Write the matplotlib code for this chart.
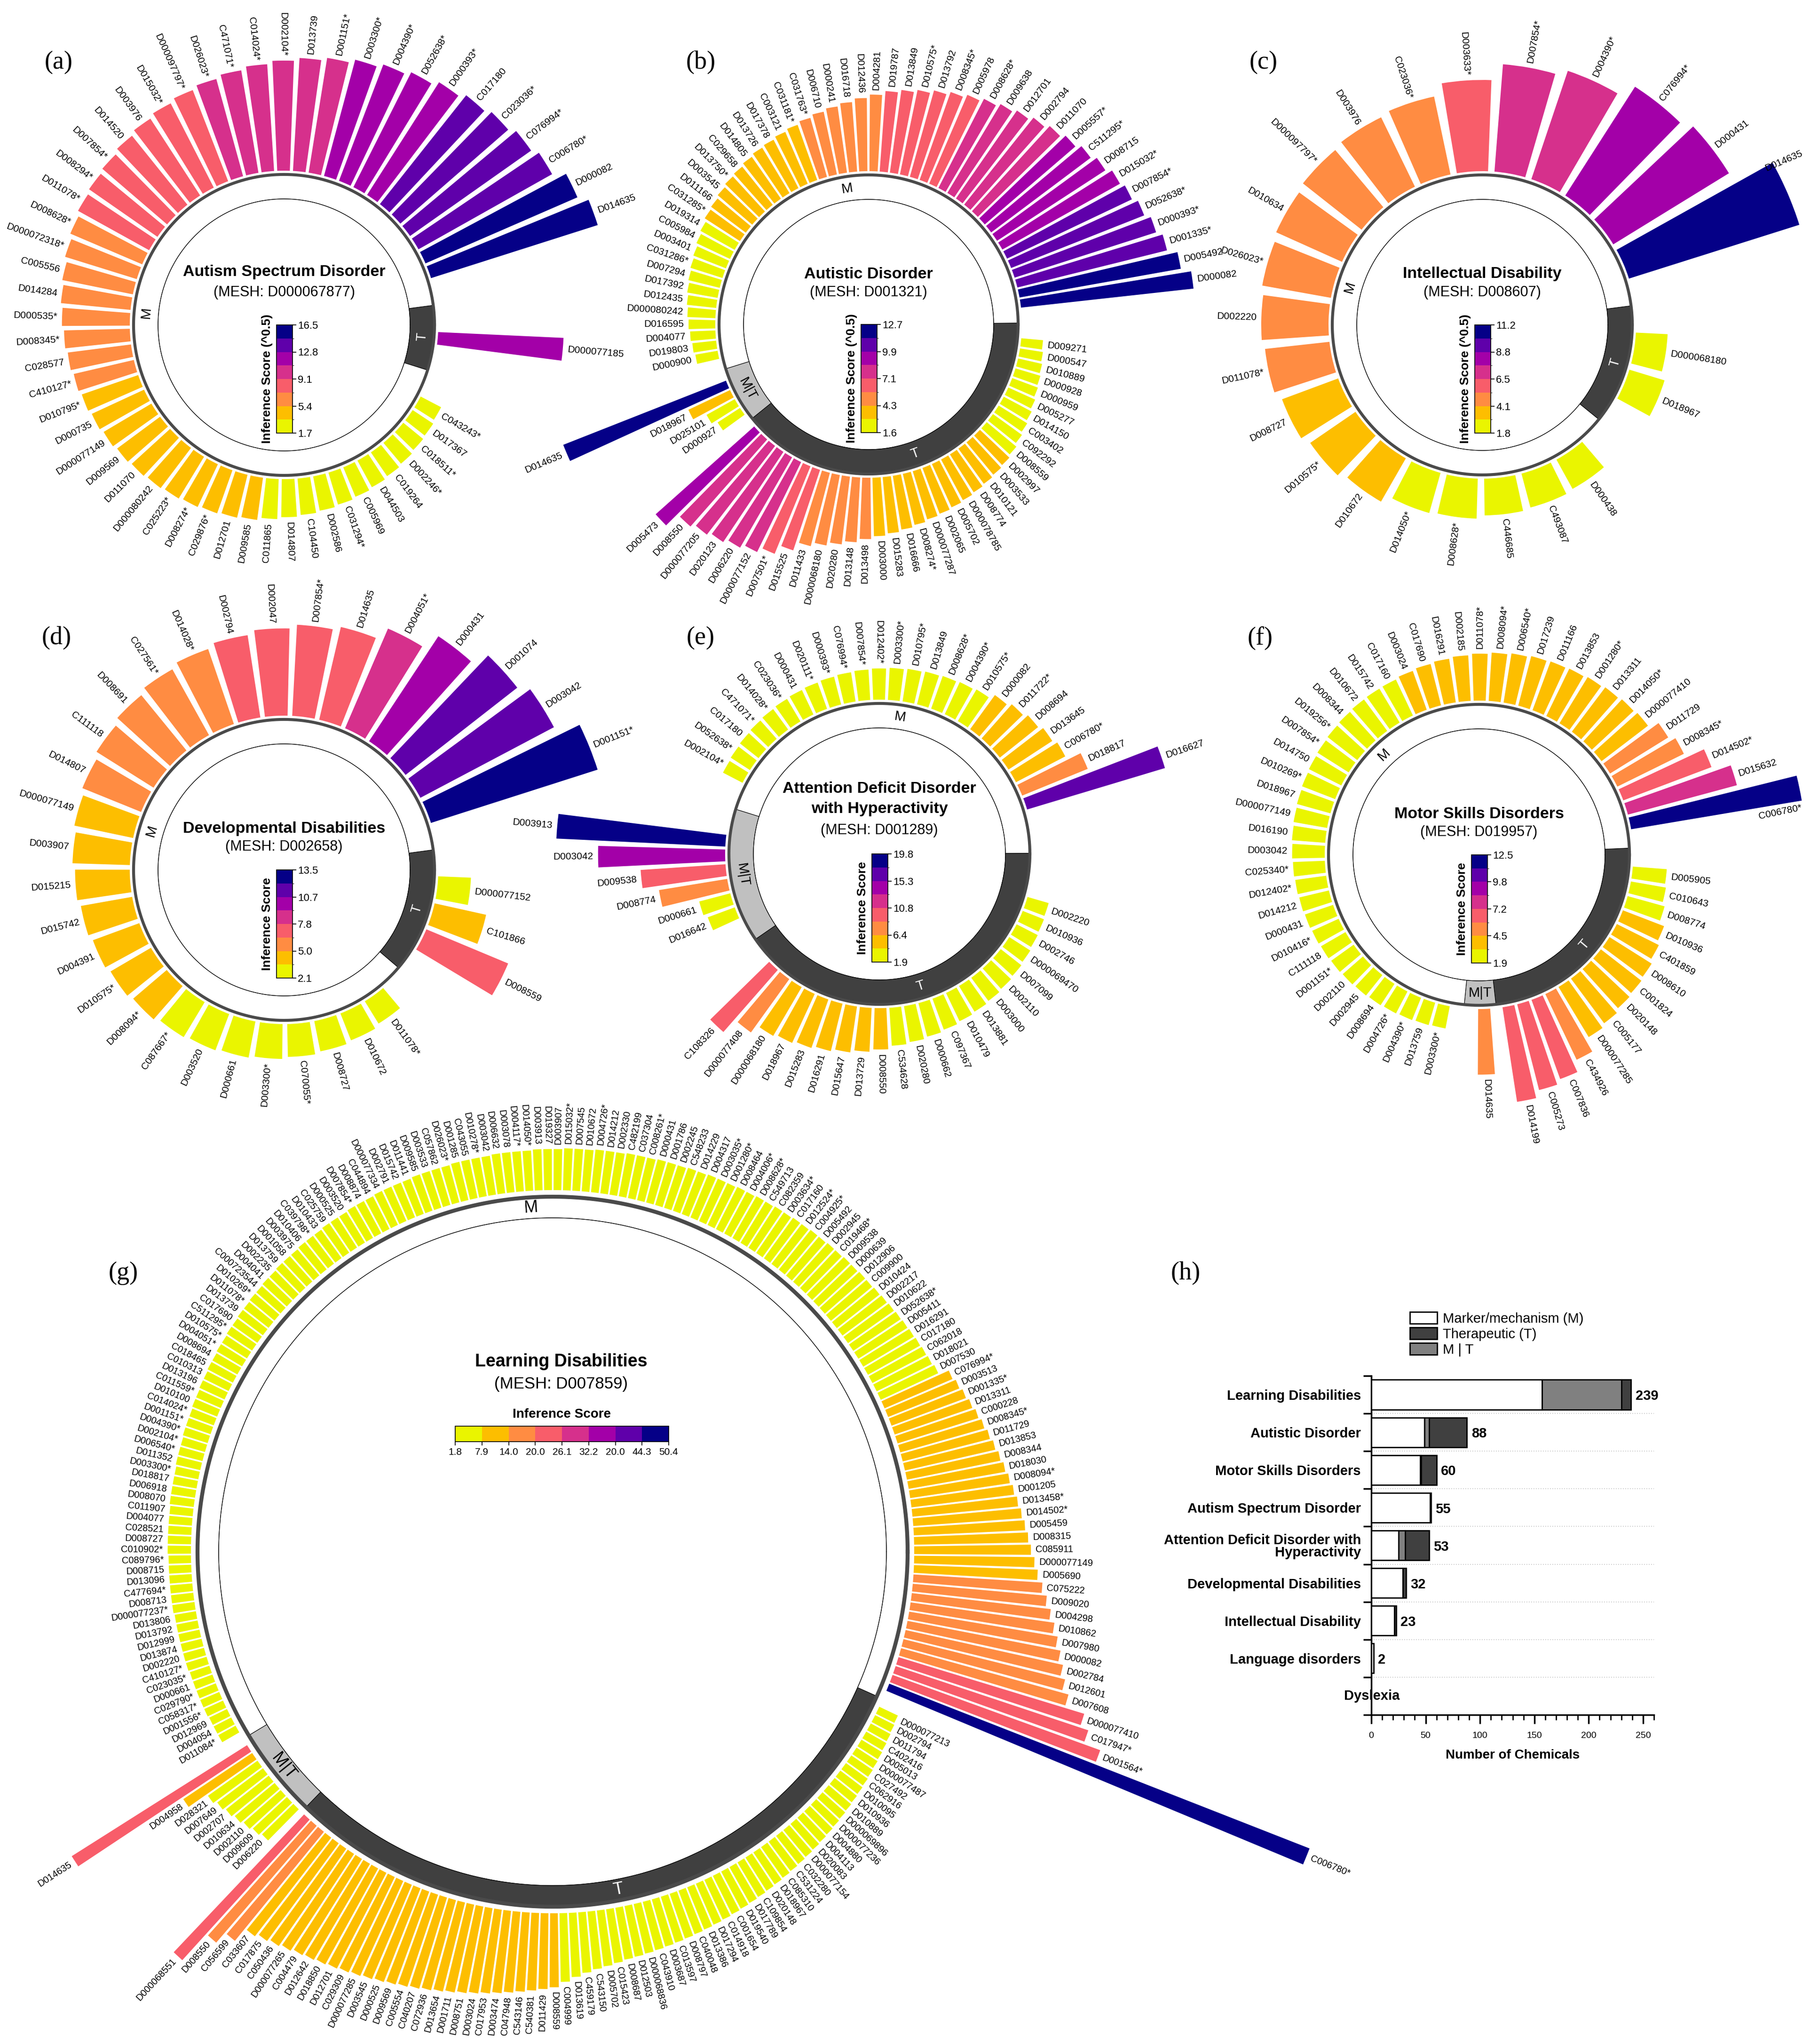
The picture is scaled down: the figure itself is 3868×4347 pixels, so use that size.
import numpy as np
import matplotlib
matplotlib.use('Agg')
import matplotlib.pyplot as plt
from matplotlib.colors import ListedColormap, BoundaryNorm
from matplotlib.cm import ScalarMappable
from matplotlib.patches import Patch

plt.rcParams['font.family'] = ['Liberation Sans', 'DejaVu Sans']

W, H = 3868, 4347
fig = plt.figure(figsize=(W / 100, H / 100), dpi=100)

palette = ['#EAF500', '#FDBE00', '#FF8C42', '#F85D6A', '#D6308C', '#A300A8', '#5F00AA', '#050087']

# ---------------- (a) Autism Spectrum Disorder ----------------
a_M_labels = ['C043243*', 'D017367', 'C018511*', 'D002246*', 'C019264', 'D044503', 'C005969', 'C031294*',
              'D002586', 'C104450', 'D014807', 'C011865', 'D009585', 'D012701', 'C029876*', 'D008274*',
              'C025223*', 'D000080242', 'D011070', 'D009569', 'D000077149', 'D000735', 'D010795*', 'C410127*',
              'C028577', 'D008345*', 'D000535*', 'D014284', 'C005556', 'D000072318*', 'D008628*', 'D011078*',
              'D008294*', 'D007854*', 'D014520', 'D003976', 'D015032*', 'D000097797*', 'D026023*', 'C471071*',
              'C014024*', 'D002104*', 'D013739', 'D001151*', 'D003300*', 'D004390*', 'D052638*', 'D000393*',
              'C017180', 'C023036*', 'C076994*', 'C006780*', 'D000082', 'D014635']
a_M_vals = [1.75, 1.9, 2.0, 2.15, 2.3, 2.45, 2.6, 2.75, 2.9, 3.05, 3.2, 3.4,
            3.65, 3.8, 3.95, 4.1, 4.25, 4.4, 4.55, 4.7, 4.9, 5.1, 5.3,
            5.5, 5.7, 5.9, 6.1, 6.3, 6.5, 6.8, 7.1,
            7.4, 7.6, 7.8, 8.1, 8.4, 8.7, 9.0,
            9.3, 9.6, 9.9, 10.2, 10.5, 10.8,
            11.2, 11.6, 12.0, 12.5,
            13.0, 13.4, 13.9, 14.4,
            15.6, 16.5]
a_T_labels = ['D000077185']
a_T_vals = [11.7]

# ---------------- (b) Autistic Disorder ----------------
b_M_labels = ['D000900', 'D019803', 'D004077', 'D016595', 'D000080242', 'D012435', 'D017392', 'D007294',
              'C031286*', 'D003401', 'C005984', 'D019314', 'C031285*', 'D011166', 'D003545', 'D013750*',
              'C029658', 'D014805', 'D013726', 'D017378', 'C003121', 'C031181*', 'C031763*', 'D006710',
              'D000241', 'D016718', 'D012436', 'D004281', 'D019787', 'D013849', 'D010575*', 'D013792',
              'D008345*', 'D005978', 'D008628*', 'D009638', 'D012701', 'D002794', 'D011070', 'D005557*',
              'C511295*', 'D008715', 'D015032*', 'D007854*', 'D052638*', 'D000393*', 'D001335*', 'D005492',
              'D000082']
b_M_vals = [1.7, 1.8, 1.9, 2.0, 2.1, 2.2, 2.3, 2.4, 2.5, 2.6, 2.75, 2.9,
            3.1, 3.2, 3.35, 3.5, 3.6, 3.75, 3.9, 4.0, 4.15, 4.3,
            4.5, 4.7, 4.9, 5.1, 5.35, 5.6,
            5.9, 6.1, 6.3, 6.55, 6.8, 7.05,
            7.3, 7.55, 7.8, 8.1, 8.4,
            8.7, 9.05, 9.4, 9.8,
            10.05, 10.4, 10.8, 11.2,
            11.9, 12.6]
b_MT_labels = ['D000927', 'D025101', 'D018967', 'D014635']
b_MT_vals = [2.0, 2.4, 3.4, 12.7]
b_T_labels = ['D009271', 'D000547', 'D010889', 'D000928', 'D000959', 'D005277', 'D014150', 'C003402',
              'C092292', 'D008559', 'D002997', 'D003533', 'D010121', 'D008774', 'D000078785', 'D005702',
              'D002065', 'D000077287', 'D008274*', 'D016666', 'D015283', 'D003000', 'D013498', 'D013148',
              'D020280', 'D000068180', 'D011433', 'D015525', 'D007501*', 'D000077152', 'D006220', 'D020123',
              'D000077205', 'D008550', 'D005473']
b_T_vals = [1.65, 1.75, 1.85, 1.95, 2.05, 2.2, 2.35, 2.5, 2.65, 2.85,
            3.0, 3.1, 3.2, 3.3, 3.4, 3.5, 3.6, 3.7, 3.85, 4.0, 4.15, 4.3,
            4.5, 4.75, 5.0, 5.25, 5.55,
            6.2, 6.9,
            7.3, 7.6, 7.9, 8.15, 8.45,
            9.6]

# ---------------- (c) Intellectual Disability ----------------
c_M_labels = ['D000438', 'C493087', 'C446685', 'D008628*', 'D014050*', 'D010672', 'D010575*', 'D008727',
              'D011078*', 'D002220', 'D026023*', 'D010634', 'D000097797*', 'D003976', 'C023036*', 'D003633*',
              'D007854*', 'D004390*', 'C076994*', 'D000431', 'D014635']
c_M_vals = [2.4, 2.5, 2.6, 2.8, 2.9, 3.4, 3.7, 4.0,
            4.3, 4.45, 4.6, 4.75, 4.9, 5.05, 5.2, 5.9, 6.9, 7.3, 8.2, 8.6, 11.2]
c_T_labels = ['D000068180', 'D018967']
c_T_vals = [2.3, 2.6]

# ---------------- (d) Developmental Disabilities ----------------
d_M_labels = ['D011078*', 'D010672', 'D008727', 'C070055*', 'D003300*', 'D000661', 'D003520', 'C087667*',
              'D008094*', 'D010575*', 'D004391', 'D015742', 'D015215', 'D003907', 'D000077149', 'D014807',
              'C111118', 'D008691', 'C027561*', 'D014028*', 'D002794', 'D002047', 'D007854*', 'D014635',
              'D004051*', 'D000431', 'D001074', 'D003042', 'D001151*']
d_M_vals = [2.3, 2.5, 2.65, 2.8, 2.95, 3.1, 3.25, 3.4,
            3.65, 3.85, 4.05, 4.25, 4.45, 4.65, 4.85,
            5.1, 5.4, 5.7, 6.0, 6.3,
            6.6, 6.9, 7.2, 7.5,
            8.5, 9.8, 11.0, 11.7, 13.5]
d_T_labels = ['D000077152', 'C101866', 'D008559']
d_T_vals = [2.8, 4.3, 7.0]

# ---------------- (e) ADHD ----------------
e_M_labels = ['D002104*', 'D052638*', 'C017180', 'C471071*', 'D014028*', 'C023036*', 'D000431', 'D020111*',
              'D000393*', 'C076994*', 'D007854*', 'D012402*', 'D003300*', 'D010795*', 'D013849', 'D008628*',
              'D004390*', 'D010575*', 'D000082', 'D011722*', 'D008694', 'D013645', 'C006780*', 'D018817',
              'D016627']
e_M_vals = [2.0, 2.1, 2.2, 2.3, 2.4, 2.5, 2.6, 2.7, 2.8, 2.9, 3.0, 3.1, 3.2, 3.3, 3.4, 3.5, 3.6, 3.75,
            4.4, 4.8, 5.2, 5.6, 6.0, 7.8, 16.5]
e_MT_labels = ['D016642', 'D000661', 'D008774', 'D009538', 'D003042', 'D003913']
e_MT_vals = [2.8, 3.2, 7.6, 9.5, 14.5, 19.5]
e_T_labels = ['D002220', 'D010936', 'D002746', 'D000069470', 'D007099', 'D002110', 'D003000', 'D013881',
              'D010479', 'C097367', 'D000662', 'D020280', 'C534628', 'D008550', 'D013729', 'D015647',
              'D016291', 'D015283', 'D018967', 'D000068180', 'D000077408', 'C108326']
e_T_vals = [2.0, 2.1, 2.2, 2.35, 2.5, 2.65, 2.8, 2.95, 3.1, 3.3, 3.5, 3.7, 3.9,
            4.3, 4.6, 4.9, 5.2, 5.5, 5.8, 6.1, 7.2, 9.2]

# ---------------- (f) Motor Skills Disorders ----------------
f_M_labels = ['D003300*', 'D013759', 'D004390*', 'D004726*', 'D008694', 'D002945', 'D002110', 'D001151*',
              'C111118', 'D010416*', 'D000431', 'D014212', 'D012402*', 'C025340*', 'D003042', 'D016190',
              'D000077149', 'D018967', 'D010269*', 'D014750', 'D007854*', 'D019256*', 'D008344', 'D010672',
              'D015742', 'C017160', 'D003024', 'C017690', 'D016291', 'D002185', 'D011078*', 'D008094*',
              'D006540*', 'D017239', 'D011166', 'D013853', 'D001280*', 'D013311', 'D014050*', 'D000077410',
              'D011729', 'D008345*', 'D014502*', 'D015632', 'C006780*']
f_M_vals = [2.0, 2.05, 2.1, 2.15, 2.2, 2.25, 2.3, 2.35, 2.4, 2.45, 2.5, 2.55, 2.6, 2.65, 2.7, 2.75,
            2.8, 2.85, 2.9, 2.95, 3.0, 3.05, 3.1, 3.15, 3.18, 3.2,
            3.3, 3.4, 3.5, 3.6, 3.7, 3.8, 3.9, 4.0, 4.05, 4.1, 4.2, 4.3, 4.4, 4.5,
            5.2, 5.6, 7.0, 8.3, 12.5]
f_MT_labels = ['D014635']
f_MT_vals = [5.0]
f_T_labels = ['D005905', 'C010643', 'D008774', 'D010936', 'C401859', 'D008610', 'C001824', 'D020148',
              'C005177', 'D000077285', 'C434926', 'C007836', 'C005273', 'D014199']
f_T_vals = [2.8, 2.9, 3.1, 3.5, 3.7, 3.9, 4.0, 4.1, 4.3, 4.5, 5.5, 6.3, 6.6, 7.1]

# ---------------- (g) Learning Disabilities ----------------
g_M_labels = ['D011084*', 'D004054', 'D012969', 'D001556*', 'C058317*', 'C029790*', 'D000661', 'C023035*',
              'C410127*', 'D002220', 'D013874', 'D012999', 'D013792', 'D013806', 'D000077237*', 'D008713',
              'C477694*', 'D013096', 'D008715', 'C089796*', 'C010902*', 'D008727', 'C028521', 'D004077',
              'C011907', 'D008070', 'D006918', 'D018817', 'D003300*', 'D011352', 'D006540*', 'D002104*',
              'D004390*', 'D001151*', 'C014024*', 'D010100', 'C011559*', 'D013196', 'C010313', 'C018465',
              'D008694', 'D004051*', 'D010575*', 'C511295*', 'C017690', 'D013739', 'D011078*', 'D010269*',
              'C000723544', 'D004041', 'D002235', 'D013759', 'D001058', 'D003975', 'D010406', 'C039798*',
              'D010433', 'C025759', 'D000525', 'D003520', 'D007854*', 'D008874', 'C044894', 'D000077334',
              'D002791', 'D015742', 'D011441', 'D009585', 'D003533', 'C057862', 'D026023*', 'D001285',
              'C043055', 'D010278*', 'D003042', 'D006632', 'D003078', 'D004117*', 'D014050*', 'D003913',
              'D019327', 'D003907', 'D015032*', 'D007545', 'D010672', 'D004726*', 'D014212', 'D002330',
              'C482199', 'C037304', 'C008261*', 'D000431', 'D001786', 'D002245', 'C548233', 'D014229',
              'D004317', 'D003035*', 'D001280*', 'D008464', 'D004006*', 'D008628*', 'C549713', 'C082359',
              'D003634*', 'C017160', 'D012524*', 'C004925*', 'D005492', 'D002945', 'C019468*', 'D009538',
              'D000639', 'D012906', 'C009900', 'D010424', 'D002217', 'D010622', 'D052638*', 'D005411',
              'D016291', 'C017180', 'C062018', 'D018021', 'D007530', 'C076994*', 'D003513', 'D001335*',
              'D013311', 'C000228', 'D008345*', 'D011729', 'D013853', 'D008344', 'D018030', 'D008094*',
              'D001205', 'D013458*', 'D014502*', 'D005459', 'D008315', 'C085911', 'D000077149', 'D005690',
              'C075222', 'D009020', 'D004298', 'D010862', 'D007980', 'D000082', 'D002784', 'D012601',
              'D007608', 'D000077410', 'C017947*', 'D001564*', 'C006780*']
g_M_vals = [1.9, 1.9, 1.9, 2.0, 2.0, 2.0, 2.0, 2.0, 2.1, 2.1, 2.1, 2.1, 2.1, 2.1, 2.2, 2.2, 2.2, 2.2, 2.2, 2.2,
            2.3, 2.3, 2.3, 2.3, 2.3, 2.4, 2.4, 2.4, 2.4, 2.5, 2.5, 2.5, 2.6, 2.6, 2.6, 2.7, 2.7, 2.8, 2.8, 2.9,
            2.9, 3.0, 3.0, 3.1, 3.1, 3.2, 3.2, 3.3, 3.3, 3.4, 3.4, 3.5, 3.5, 3.5, 3.6, 3.6, 3.6, 3.7, 3.7, 3.7,
            3.8, 3.8, 3.8, 3.9, 3.9, 3.9, 3.9, 4.0, 4.0, 4.0, 4.0, 4.1, 4.1, 4.1, 4.1, 4.2, 4.2, 4.2, 4.2, 4.3,
            4.3, 4.3, 4.4, 4.4, 4.4, 4.5, 4.5, 4.5, 4.6, 4.6, 4.6, 4.7, 4.7, 4.7, 4.8, 4.8, 4.9, 4.9, 4.9, 5.0,
            5.0, 5.1, 5.1, 5.2, 5.2, 5.3, 5.3, 5.4, 5.4, 5.5, 5.5, 5.6, 5.6, 5.7, 5.7, 5.8, 5.9, 6.0, 6.1, 6.2,
            6.3, 6.4, 6.5, 6.6, 6.8,
            8.0, 8.3, 8.6, 8.9, 9.2, 9.5, 9.8, 10.1, 10.4, 10.7, 11.0, 11.3, 11.6, 11.9, 12.2, 12.5, 12.8, 13.2, 13.6,
            14.2, 14.8, 15.4, 16.0, 16.6, 17.2, 17.8, 18.4, 19.2,
            21.5, 22.5, 24.5,
            50.4]
g_MT_labels = ['D006220', 'D009609', 'D002110', 'D010634', 'D002707', 'D007649', 'D028321', 'D004958', 'D014635']
g_MT_vals = [4.6, 4.9, 5.2, 5.5, 5.8, 6.1, 6.5, 9.0, 23.0]
g_T_labels = ['D000077213', 'D002794', 'D011794', 'C402416', 'D005013', 'D000077487', 'C027492', 'C062916',
              'D010095', 'D010936', 'D010889', 'D000069896', 'D000077236', 'D004880', 'D004113', 'D020083',
              'D000077154', 'C032280', 'C531224', 'C085310', 'D018967', 'D020148', 'C109854', 'D017789',
              'D019540', 'C001654', 'C014918', 'D017294', 'D013386', 'C040048', 'D008797', 'C013597',
              'D003687', 'C043910', 'D000068836', 'D012503', 'D008687', 'C015423', 'D005702', 'C543150',
              'C459179', 'D013619', 'C004999', 'D008559', 'D011429', 'C540381', 'C543146', 'C047948',
              'D003474', 'C017953', 'D003024', 'D008751', 'D001711', 'D013654', 'C072936', 'C040207',
              'C005554', 'D009569', 'D000525', 'D003545', 'D000077285', 'C029309', 'D012701', 'D018850',
              'D012642', 'C004479', 'D000077265', 'C050436', 'C017875', 'C033607', 'C056599', 'D008550',
              'D000068551']
g_T_vals = [2.0, 2.1, 2.2, 2.3, 2.4, 2.5, 2.6, 2.7, 2.8, 2.9, 3.0, 3.1, 3.2, 3.3, 3.4, 3.5, 3.6, 3.7, 3.8, 3.9,
            4.0, 4.1, 4.2, 4.3, 4.4, 4.5, 4.6, 4.7, 4.8, 4.9, 5.0, 5.1, 5.2, 5.3, 5.4, 5.5, 5.6, 5.8, 6.0, 6.2,
            6.5, 6.9, 7.4,
            8.0, 8.2, 8.4, 8.6, 8.8, 9.0, 9.2, 9.4, 9.6, 9.8, 10.0, 10.2, 10.4, 10.6, 10.8, 11.0, 11.2, 11.4,
            11.6, 11.8, 12.0, 12.2, 12.4, 12.7, 13.0, 13.3, 13.7,
            15.5, 17.0, 21.0]

# ---------------- (h) counts ----------------
h_cats = ['Learning Disabilities', 'Autistic Disorder', 'Motor Skills Disorders', 'Autism Spectrum Disorder',
          'Attention Deficit Disorder with\nHyperactivity', 'Developmental Disabilities',
          'Intellectual Disability', 'Language disorders', 'Dyslexia']
h_M = [157, 49, 45, 54, 25, 29, 21, 2, 0]
h_MT = [73, 4, 1, 0, 6, 0, 0, 0, 0]
h_T = [9, 35, 14, 1, 22, 3, 2, 0, 0]


def fx(x):
    return x / W


def fy(y):
    return 1 - y / H


seg_color = {'T': '#404040', 'MT': '#C0C0C0', 'M': 'white'}
seg_text = {'T': 'T', 'MT': 'M|T', 'M': 'M'}


def radial(cx, cy, R, band, groups, start, gaps, vmin, vmax, Lmin, Lmax, frac=0.8,
           S=800, fs=15, ring_fs=21, ring_lw=4.5, pad=8, adjust=None):
    adjust = adjust or {}
    ax = fig.add_axes([fx(cx - S), fy(cy + S), 2 * S / W, 2 * S / H], projection='polar')
    ax.set_ylim(0, S)
    ax.set_axis_off()
    for kind, labs, vals in groups:
        assert len(labs) == len(vals), (kind, len(labs), len(vals))
    n = sum(len(g[1]) for g in groups)
    slot = (360 - sum(gaps)) / n
    edges = np.linspace(vmin, vmax, 9)
    centers = []
    a = start
    for (kind, labs, vals), gap in zip(groups, gaps):
        th = a - slot * np.arange(len(labs))
        centers.append(th)
        a = th[-1] - slot - gap
    for (kind, labs, vals), th in zip(groups, centers):
        v = np.asarray(vals, float)
        idx = np.clip(np.digitize(v, edges) - 1, 0, 7)
        cols = [palette[i] for i in idx]
        L = Lmin + (v - vmin) / (vmax - vmin) * (Lmax - Lmin)
        ax.bar(np.deg2rad(th), L, width=np.deg2rad(slot * frac), bottom=R + pad,
               color=cols, edgecolor='none', clip_on=False, zorder=2)
        for t, l, lab in zip(th, L, labs):
            dth, dr = adjust.get(lab, (0, 0))
            tt = t % 360
            if 90 < tt <= 270:
                rot, ha = tt - 180, 'right'
            else:
                rot, ha = (tt if tt <= 90 else tt - 360), 'left'
            ax.text(np.deg2rad(t + dth), R + pad + l + 10 + dr, lab, rotation=rot, rotation_mode='anchor',
                    ha=ha, va='center', fontsize=fs, zorder=4)
    k = len(groups)
    bounds = []
    for i in range(k):
        nxt = centers[(i + 1) % k][0] - (360 if i == k - 1 else 0)
        bounds.append((centers[i][-1] + nxt) / 2)
    for i, (kind, labs, vals) in enumerate(groups):
        hi = bounds[i - 1] + (360 if i == 0 else 0)
        lo = bounds[i]
        c = (hi + lo) / 2
        ax.bar(np.deg2rad(c), band, width=np.deg2rad(hi - lo), bottom=R - band,
               color=seg_color[kind], edgecolor='black', linewidth=0.8, clip_on=False, zorder=1)
        cc = c % 360
        rot = cc - 90 if cc <= 180 else cc + 90 - 360
        ax.text(np.deg2rad(c), R - band / 2, seg_text[kind], rotation=rot, rotation_mode='anchor',
                ha='center', va='center', fontsize=ring_fs,
                color='white' if kind == 'T' else 'black', zorder=3)
    circ = np.linspace(0, 2 * np.pi, 721)
    ax.plot(circ, np.full_like(circ, R), color='#4a4a4a', lw=ring_lw, zorder=3)
    ax.plot(circ, np.full_like(circ, R - band), color='black', lw=0.8, zorder=3)
    return ax


def vbar(cx, cy, vmin, vmax, ticklabels, label):
    cax = fig.add_axes([fx(cx - 16), fy(cy + 230), 34 / W, 230 / H])
    edges = np.linspace(vmin, vmax, 9)
    sm = ScalarMappable(norm=BoundaryNorm(edges, 8), cmap=ListedColormap(palette))
    cb = fig.colorbar(sm, cax=cax, orientation='vertical')
    cb.set_ticks(edges[::2])
    cb.set_ticklabels(ticklabels)
    cb.outline.set_linewidth(1.2)
    cax.tick_params(labelsize=16, length=6, width=1.2, pad=2)
    cax.yaxis.set_label_position('left')
    cax.set_ylabel(label, fontsize=19, fontweight='bold', labelpad=6)


def titles(cx, cy, lines):
    for txt, dy, bold in lines:
        fig.text(fx(cx), fy(cy + dy), txt, ha='center', va='center',
                 fontsize=24.5 if bold else 22, fontweight='bold' if bold else 'normal')


# (a)
radial(604, 691, 320, 52, [('T', a_T_labels, a_T_vals), ('M', a_M_labels, a_M_vals)],
       -5, [19.15, 19.15], 1.7, 16.5, 48, 372)
titles(604, 691, [('Autism Spectrum Disorder', -112, True), ('(MESH: D000067877)', -69, False)])
vbar(604, 691, 1.7, 16.5, ['1.7', '5.4', '9.1', '12.8', '16.5'], 'Inference Score (^0.5)')

# (b)
radial(1847, 690, 318, 52, [('T', b_T_labels, b_T_vals), ('MT', b_MT_labels, b_MT_vals),
                            ('M', b_M_labels, b_M_vals)],
       -6.7, [4.9, 7.8, 10.7], 1.6, 12.7, 45, 372)
titles(1847, 690, [('Autistic Disorder', -107, True), ('(MESH: D001321)', -68, False)])
vbar(1847, 690, 1.6, 12.7, ['1.6', '4.3', '7.1', '9.9', '12.7'], 'Inference Score (^0.5)')

# (c)
radial(3152, 691, 319, 52, [('T', c_T_labels, c_T_vals), ('M', c_M_labels, c_M_vals)],
       -8.7, [18.5, 18.0], 1.8, 11.2, 50, 380, frac=0.83,
       adjust={'D014635': (5.5, -30)})
titles(3152, 691, [('Intellectual Disability', -108, True), ('(MESH: D008607)', -69, False)])
vbar(3152, 691, 1.8, 11.2, ['1.8', '4.1', '6.5', '8.8', '11.2'], 'Inference Score (^0.5)')

# (d)
radial(604, 1850, 320, 52, [('T', d_T_labels, d_T_vals), ('M', d_M_labels, d_M_vals)],
       -6.6, [17.2, 18.4], 2.1, 13.5, 50, 372, frac=0.83)
titles(604, 1850, [('Developmental Disabilities', -88, True), ('(MESH: D002658)', -49, False)])
vbar(604, 1850, 2.1, 13.5, ['2.1', '5.0', '7.8', '10.7', '13.5'], 'Inference Score')

# (e)
radial(1870, 1816, 320, 52, [('T', e_T_labels, e_T_vals), ('MT', e_MT_labels, e_MT_vals),
                             ('M', e_M_labels, e_M_vals)],
       -18.4, [18.65, 19.25, 31.85], 1.9, 19.8, 45, 365)
titles(1870, 1816, [('Attention Deficit Disorder', -138, True), ('with Hyperactivity', -96, True),
                    ('(MESH: D001289)', -50, False)])
vbar(1870, 1816, 1.9, 19.8, ['1.9', '6.4', '10.8', '15.3', '19.8'], 'Inference Score')

# (f)
radial(3145, 1818, 320, 52, [('T', f_T_labels, f_T_vals), ('MT', f_MT_labels, f_MT_vals),
                             ('M', f_M_labels, f_M_vals)],
       -6.6, [3.5, 9.5, 12.8], 1.9, 12.5, 45, 368,
       adjust={'C006780*': (-4.0, -106)})
titles(3145, 1818, [('Motor Skills Disorders', -87, True), ('(MESH: D019957)', -48, False)])
vbar(3145, 1818, 1.9, 12.5, ['1.9', '4.5', '7.2', '9.8', '12.5'], 'Inference Score')

# (g)
radial(1175, 3300, 755, 45, [('T', g_T_labels, g_T_vals), ('MT', g_MT_labels, g_MT_vals),
                             ('M', g_M_labels, g_M_vals)],
       -26, [0.9, 2.1, 2.5], 1.8, 50.4, 40, 960, frac=0.82, S=1000, fs=14.5, ring_fs=26, ring_lw=6, pad=14)
fig.text(fx(1193), fy(2896), 'Learning Disabilities', ha='center', va='center', fontsize=27, fontweight='bold')
fig.text(fx(1193), fy(2943), '(MESH: D007859)', ha='center', va='center', fontsize=25)
fig.text(fx(1195), fy(3008), 'Inference Score', ha='center', va='center', fontsize=20, fontweight='bold')
gcax = fig.add_axes([fx(968), fy(3066), 454 / W, 33 / H])
g_edges = np.linspace(1.8, 50.4, 9)
gcb = fig.colorbar(ScalarMappable(norm=BoundaryNorm(g_edges, 8), cmap=ListedColormap(palette)),
                   cax=gcax, orientation='horizontal')
gcb.set_ticks(g_edges)
gcb.set_ticklabels(['1.8', '7.9', '14.0', '20.0', '26.1', '32.2', '20.0', '44.3', '50.4'])
gcb.outline.set_linewidth(1.2)
gcax.tick_params(labelsize=15, length=6, width=1.2, pad=3)

# (h) stacked horizontal bars
axh = fig.add_axes([fx(2916), fy(3647), 601 / W, (3647 - 2926) / H])
y = np.arange(len(h_cats))
hM = np.array(h_M)
hMT = np.array(h_MT)
hT = np.array(h_T)
axh.barh(y, hM, height=0.79, color='white', edgecolor='black', linewidth=2, zorder=3)
axh.barh(y, hMT, left=hM, height=0.79, color='#808080', edgecolor='black', linewidth=2, zorder=3)
axh.barh(y, hT, left=hM + hMT, height=0.79, color='#404040', edgecolor='black', linewidth=2, zorder=3)
tot = hM + hMT + hT
for yi, t in zip(y, tot):
    if t > 0:
        axh.text(t + 4, yi + 0.04, str(t), va='center', ha='left', fontsize=21, fontweight='bold')
axh.hlines(np.arange(0.5, len(h_cats) - 1, 1), 0, 260, colors='#c0c0c0', linestyles=(0, (1, 2)),
           linewidth=1.2, zorder=1)
axh.set_xlim(0, 260)
axh.set_ylim(len(h_cats) - 0.5, -0.5)
axh.set_yticks(y)
axh.set_yticklabels(h_cats[:-1] + [''], fontsize=21, fontweight='bold', linespacing=0.95)
axh.text(26, 8, h_cats[-1], ha='right', va='center', fontsize=21, fontweight='bold', zorder=5)
axh.set_yticks(np.arange(-0.5, len(h_cats), 1), minor=True)
axh.tick_params(axis='y', which='major', length=0, pad=16)
axh.tick_params(axis='y', which='minor', length=12, width=2.5)
axh.set_xticks(np.arange(0, 251, 50))
axh.set_xticks(np.arange(0, 261, 10), minor=True)
axh.tick_params(axis='x', which='major', length=14, width=2.5, labelsize=14, pad=12)
axh.tick_params(axis='x', which='minor', length=8, width=2)
for sp in ['top', 'right']:
    axh.spines[sp].set_visible(False)
for sp in ['left', 'bottom']:
    axh.spines[sp].set_linewidth(2.5)
axh.set_xlabel('Number of Chemicals', fontsize=20, fontweight='bold', labelpad=14)
handles = [Patch(facecolor='white', edgecolor='black', linewidth=2),
           Patch(facecolor='#404040', edgecolor='black', linewidth=2),
           Patch(facecolor='#808080', edgecolor='black', linewidth=2)]
fig.legend(handles, ['Marker/mechanism (M)', 'Therapeutic (T)', 'M | T'], loc='upper left',
           bbox_to_anchor=(fx(2998), fy(2790)), frameon=False, fontsize=21, handlelength=2.0,
           handleheight=0.95, handletextpad=0.4, labelspacing=0.15, borderpad=0, borderaxespad=0)

# panel letters
for txt, px, py in [('(a)', 125, 133), ('(b)', 1490, 133), ('(c)', 2687, 133), ('(d)', 120, 1357),
                    ('(e)', 1490, 1357), ('(f)', 2680, 1357), ('(g)', 262, 2708), ('(h)', 2521, 2708)]:
    fig.text(fx(px), fy(py), txt, ha='center', va='center', fontsize=39, family='Liberation Serif')

fig.savefig('out.png', dpi=100, facecolor='white')
